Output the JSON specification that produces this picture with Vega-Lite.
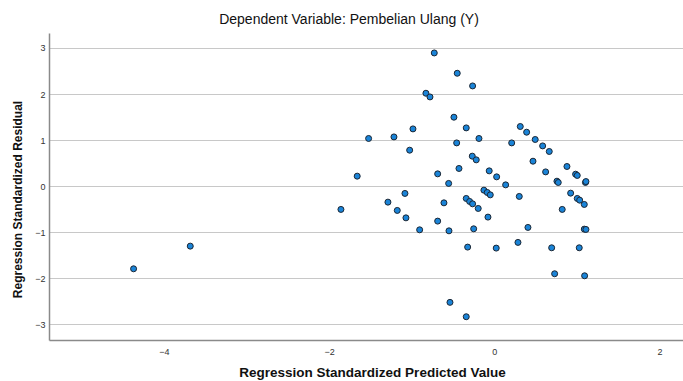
{
  "$schema": "https://vega.github.io/schema/vega-lite/v6.json",
  "width": 634,
  "height": 307,
  "autosize": {"type": "none"},
  "padding": {"left": 49, "top": 33, "right": 0, "bottom": 41},
  "background": "white",
  "title": {
    "text": "Dependent Variable: Pembelian Ulang (Y)",
    "font": "Liberation Sans",
    "fontSize": 14,
    "fontWeight": "normal",
    "color": "#111",
    "anchor": "middle",
    "dx": -17,
    "offset": 6
  },
  "config": {
    "view": {"stroke": null},
    "font": "Liberation Sans"
  },
  "data": {
    "values": [
      {"pred": -4.366, "resid": -1.794},
      {"pred": -3.680, "resid": -1.302},
      {"pred": -1.856, "resid": -0.505},
      {"pred": -1.659, "resid": 0.217},
      {"pred": -1.521, "resid": 1.035},
      {"pred": -1.287, "resid": -0.347},
      {"pred": -1.214, "resid": 1.069},
      {"pred": -1.174, "resid": -0.527},
      {"pred": -1.081, "resid": -0.158},
      {"pred": -1.069, "resid": -0.688},
      {"pred": -1.024, "resid": 0.781},
      {"pred": -0.984, "resid": 1.243},
      {"pred": -0.903, "resid": -0.948},
      {"pred": -0.827, "resid": 2.017},
      {"pred": -0.778, "resid": 1.937},
      {"pred": -0.726, "resid": 2.892},
      {"pred": -0.685, "resid": 0.267},
      {"pred": -0.685, "resid": -0.759},
      {"pred": -0.609, "resid": -0.362},
      {"pred": -0.552, "resid": 0.059},
      {"pred": -0.548, "resid": -0.970},
      {"pred": -0.536, "resid": -2.523},
      {"pred": -0.488, "resid": 1.497},
      {"pred": -0.455, "resid": 0.939},
      {"pred": -0.448, "resid": 2.451},
      {"pred": -0.427, "resid": 0.384},
      {"pred": -0.339, "resid": 1.265},
      {"pred": -0.339, "resid": -0.267},
      {"pred": -0.339, "resid": -2.835},
      {"pred": -0.322, "resid": -1.323},
      {"pred": -0.298, "resid": -0.332},
      {"pred": -0.266, "resid": 0.651},
      {"pred": -0.262, "resid": 2.176},
      {"pred": -0.262, "resid": -0.384},
      {"pred": -0.249, "resid": -0.926},
      {"pred": -0.218, "resid": 0.571},
      {"pred": -0.194, "resid": -0.484},
      {"pred": -0.185, "resid": 1.035},
      {"pred": -0.125, "resid": -0.087},
      {"pred": -0.085, "resid": -0.137},
      {"pred": -0.076, "resid": -0.672},
      {"pred": -0.061, "resid": 0.332},
      {"pred": -0.048, "resid": -0.189},
      {"pred": 0.024, "resid": -1.345},
      {"pred": 0.029, "resid": 0.202},
      {"pred": 0.138, "resid": 0.028},
      {"pred": 0.211, "resid": 0.939},
      {"pred": 0.287, "resid": -1.221},
      {"pred": 0.303, "resid": -0.223},
      {"pred": 0.315, "resid": 1.295},
      {"pred": 0.392, "resid": 1.171},
      {"pred": 0.408, "resid": -0.896},
      {"pred": 0.469, "resid": 0.542},
      {"pred": 0.496, "resid": 1.013},
      {"pred": 0.586, "resid": 0.874},
      {"pred": 0.622, "resid": 0.310},
      {"pred": 0.666, "resid": 0.753},
      {"pred": 0.695, "resid": -1.338},
      {"pred": 0.731, "resid": -1.902},
      {"pred": 0.759, "resid": 0.108},
      {"pred": 0.775, "resid": 0.080},
      {"pred": 0.823, "resid": -0.505},
      {"pred": 0.880, "resid": 0.427},
      {"pred": 0.925, "resid": -0.152},
      {"pred": 0.985, "resid": 0.260},
      {"pred": 1.005, "resid": 0.232},
      {"pred": 1.005, "resid": -0.267},
      {"pred": 1.029, "resid": -1.338},
      {"pred": 1.034, "resid": -0.304},
      {"pred": 1.090, "resid": -0.397},
      {"pred": 1.090, "resid": -0.933},
      {"pred": 1.110, "resid": -0.940},
      {"pred": 1.094, "resid": -1.946},
      {"pred": 1.104, "resid": 0.080},
      {"pred": 1.110, "resid": 0.100}
    ]
  },
  "mark": {
    "type": "point",
    "filled": true,
    "size": 36,
    "fill": "#1a84d8",
    "stroke": "#1b2633",
    "strokeWidth": 1,
    "opacity": 1
  },
  "encoding": {
    "x": {
      "field": "pred",
      "type": "quantitative",
      "scale": {"domain": [-5.39, 2.285], "nice": false, "zero": false},
      "axis": {
        "title": "Regression Standardized Predicted Value",
        "values": [-4, -2, 0, 2],
        "grid": false,
        "ticks": false,
        "domainColor": "#8a8a8a",
        "domainWidth": 1.5,
        "labelFont": "Liberation Sans",
        "labelFontSize": 9,
        "labelColor": "#333",
        "labelPadding": 7,
        "titleFont": "Liberation Sans",
        "titleFontSize": 13.5,
        "titleFontWeight": "bold",
        "titleColor": "#111",
        "titleX": 323,
        "titleY": 32,
        "titleBaseline": "middle",
        "titleAlign": "center"
      }
    },
    "y": {
      "field": "resid",
      "type": "quantitative",
      "scale": {"domain": [-3.34, 3.325], "nice": false, "zero": false},
      "axis": {
        "title": "Regression Standardized Residual",
        "values": [-3, -2, -1, 0, 1, 2, 3],
        "grid": true,
        "gridColor": "#c8c8c8",
        "gridWidth": 1,
        "ticks": false,
        "domainColor": "#8a8a8a",
        "domainWidth": 1.5,
        "labelFont": "Liberation Sans",
        "labelFontSize": 9,
        "labelColor": "#333",
        "labelPadding": 4,
        "titleFont": "Liberation Sans",
        "titleFontSize": 12,
        "titleFontWeight": "bold",
        "titleColor": "#111",
        "titleX": -32,
        "titleY": 166,
        "titleAngle": 270,
        "titleBaseline": "middle",
        "titleAlign": "center"
      }
    }
  }
}
